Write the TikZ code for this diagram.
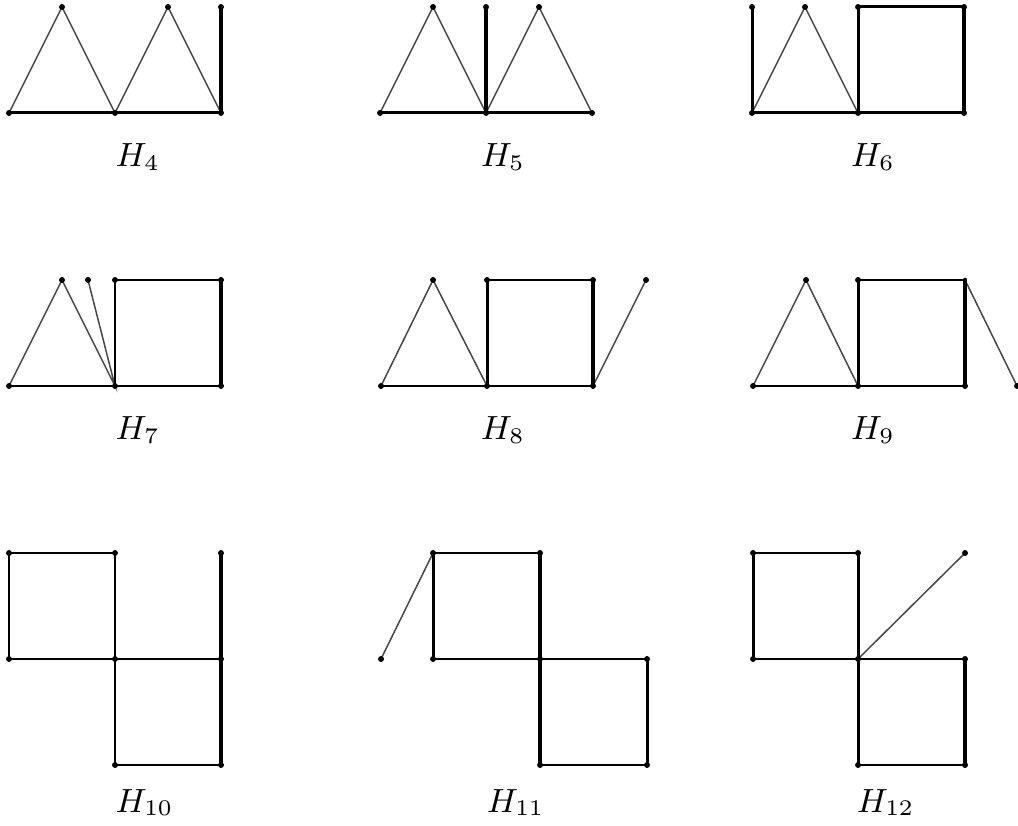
\documentclass[tikz,border=0pt]{standalone}
\begin{document}
\begin{tikzpicture}[x=0.009434cm, y=-0.009434cm,
  thinE/.style={line width=0.4pt, black!72},
  thickE/.style={line width=0.8pt, black, line cap=round},
  boldE/.style={line width=1.25pt, black, line cap=round},
  vdot/.style={fill=black},
  lbl/.style={anchor=base west, inner sep=0pt, font=\fontsize{9}{11}\selectfont}]
\useasboundingbox (0,0) rectangle (1018,826);
% ---------- H4 ----------
\coordinate (a4) at (9,113); \coordinate (b4) at (62,7); \coordinate (c4) at (115,113);
\coordinate (d4) at (168,7); \coordinate (e4) at (221,113); \coordinate (f4) at (221,7);
\draw[thinE] (a4) -- (b4) -- (c4) -- (d4) -- (e4);
\draw[thickE] (a4) -- (c4) -- (e4);
\draw[boldE] (e4) -- (f4);
\foreach \p in {a4,b4,c4,d4,e4,f4} \fill[vdot] (\p) circle (0.028cm);
\node[lbl] (L4) at (115,167) {$H_4$};
% ---------- H5 ----------
\coordinate (a5) at (380,113); \coordinate (b5) at (433,7); \coordinate (c5) at (486,113);
\coordinate (t5) at (486,7); \coordinate (d5) at (539,7); \coordinate (e5) at (592,113);
\draw[thinE] (a5) -- (b5) -- (c5) -- (d5) -- (e5);
\draw[thickE] (a5) -- (c5) -- (e5);
\draw[boldE] (c5) -- (t5);
\foreach \p in {a5,b5,c5,t5,d5,e5} \fill[vdot] (\p) circle (0.028cm);
\node[lbl] (L5) at (480,167) {$H_5$};
% ---------- H6 ----------
\coordinate (a6) at (752,113); \coordinate (p6) at (752,7); \coordinate (b6) at (805,7);
\coordinate (c6) at (858,113); \coordinate (d6) at (858,7); \coordinate (e6) at (964,7);
\coordinate (f6) at (964,113);
\draw[thinE] (a6) -- (b6) -- (c6);
\draw[thickE] (p6) -- (a6) -- (c6) -- (f6);
\draw[thickE] (c6) -- (d6) -- (e6);
\draw[boldE] (e6) -- (f6);
\foreach \p in {a6,p6,b6,c6,d6,e6,f6} \fill[vdot] (\p) circle (0.028cm);
\node[lbl] (L6) at (850,167) {$H_6$};
% ---------- H7 ----------
\coordinate (a7) at (9,386); \coordinate (b7) at (62,280); \coordinate (p7) at (88,280);
\coordinate (c7) at (115,386); \coordinate (d7) at (115,280); \coordinate (e7) at (221,280);
\coordinate (f7) at (221,386);
\draw[thinE] (a7) -- (b7) -- (c7) -- (p7);
\draw[thickE] (a7) -- (c7) -- (f7);
\draw[thickE] (c7) -- (d7) -- (e7);
\draw[boldE] (e7) -- (f7);
\foreach \p in {a7,b7,p7,c7,d7,e7,f7} \fill[vdot] (\p) circle (0.028cm);
\node[lbl] (L7) at (115,440) {$H_7$};
% ---------- H8 ----------
\coordinate (a8) at (381,386); \coordinate (b8) at (433,280); \coordinate (c8) at (487,386);
\coordinate (d8) at (487,280); \coordinate (e8) at (593,280); \coordinate (f8) at (593,386);
\coordinate (p8) at (646,280);
\draw[thinE] (a8) -- (b8) -- (c8);
\draw[thinE] (f8) -- (p8);
\draw[thickE] (a8) -- (c8) -- (f8);
\draw[thickE] (c8) -- (d8) -- (e8);
\draw[boldE] (e8) -- (f8);
\foreach \p in {a8,b8,c8,d8,e8,f8,p8} \fill[vdot] (\p) circle (0.028cm);
\node[lbl] (L8) at (480,440) {$H_8$};
% ---------- H9 ----------
\coordinate (a9) at (753,386); \coordinate (b9) at (806,280); \coordinate (c9) at (858,386);
\coordinate (d9) at (858,280); \coordinate (e9) at (965,280); \coordinate (f9) at (965,386);
\coordinate (p9) at (1017,386);
\draw[thinE] (a9) -- (b9) -- (c9);
\draw[thinE] (e9) -- (p9);
\draw[thickE] (a9) -- (c9) -- (f9);
\draw[thickE] (c9) -- (d9) -- (e9);
\draw[boldE] (e9) -- (f9);
\foreach \p in {a9,b9,c9,d9,f9,p9} \fill[vdot] (\p) circle (0.028cm);
\node[lbl] (L9) at (850,440) {$H_9$};
% ---------- H10 ----------
\coordinate (a10) at (9,553); \coordinate (b10) at (115,553); \coordinate (c10) at (221,553);
\coordinate (d10) at (9,659); \coordinate (e10) at (115,659); \coordinate (f10) at (221,659);
\coordinate (g10) at (115,765); \coordinate (h10) at (221,765);
\draw[thickE] (d10) -- (a10) -- (b10) -- (e10) -- (g10) -- (h10);
\draw[thickE] (d10) -- (e10) -- (f10);
\draw[boldE] (c10) -- (f10) -- (h10);
\foreach \p in {a10,b10,c10,d10,e10,f10,g10,h10} \fill[vdot] (\p) circle (0.028cm);
\node[lbl] (L10) at (115,812) {$H_{10}$};
% ---------- H11 ----------
\coordinate (p11) at (381,659); \coordinate (a11) at (433,553); \coordinate (b11) at (540,553);
\coordinate (d11) at (433,659); \coordinate (e11) at (540,659); \coordinate (f11) at (647,659);
\coordinate (g11) at (540,765); \coordinate (h11) at (647,765);
\draw[thinE] (p11) -- (a11);
\draw[thickE] (b11) -- (a11) -- (d11) -- (e11) -- (f11) -- (h11) -- (g11);
\draw[boldE] (b11) -- (e11) -- (g11);
\foreach \p in {p11,a11,b11,d11,e11,f11,g11,h11} \fill[vdot] (\p) circle (0.028cm);
\node[lbl] (L11) at (486,812) {$H_{11}$};
% ---------- H12 ----------
\coordinate (a12) at (753,553); \coordinate (b12) at (858,553); \coordinate (p12) at (965,553);
\coordinate (d12) at (753,659); \coordinate (e12) at (858,659); \coordinate (f12) at (965,659);
\coordinate (g12) at (858,765); \coordinate (h12) at (965,765);
\draw[thinE] (e12) -- (p12);
\draw[thickE] (e12) -- (d12) -- (a12) -- (b12) -- (e12) -- (g12) -- (h12);
\draw[thickE] (e12) -- (f12);
\draw[boldE] (f12) -- (h12);
\foreach \p in {a12,b12,p12,d12,e12,f12,g12,h12} \fill[vdot] (\p) circle (0.028cm);
\node[lbl] (L12) at (856,812) {$H_{12}$};
\end{tikzpicture}
\end{document}
